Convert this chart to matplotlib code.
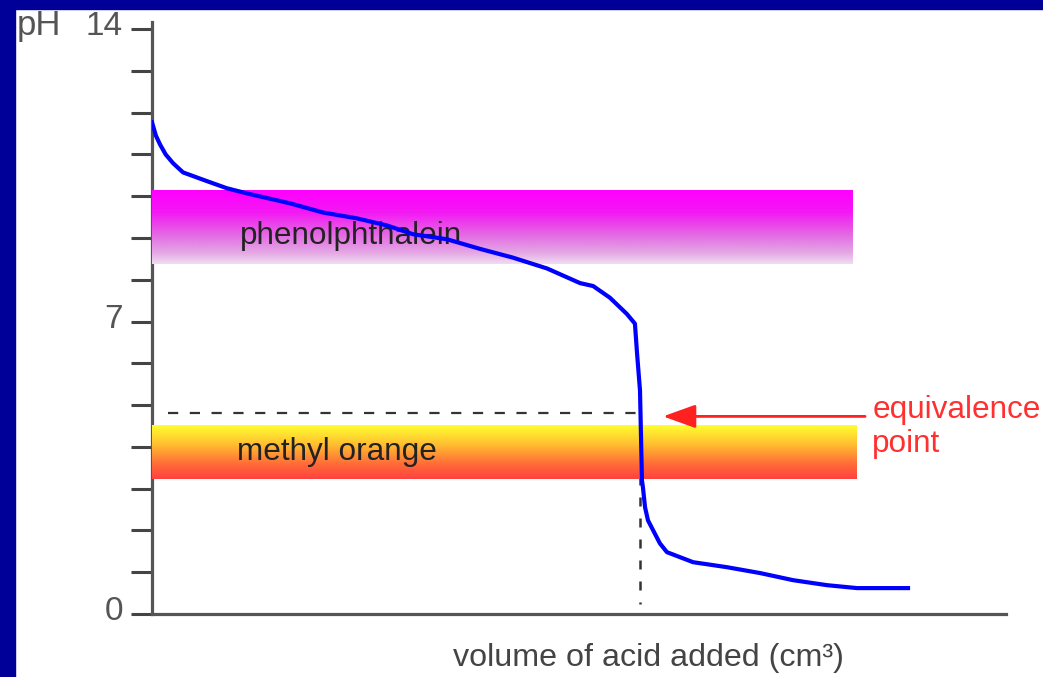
import numpy as np
import matplotlib
matplotlib.use("Agg")
import matplotlib.pyplot as plt
from matplotlib.colors import LinearSegmentedColormap
from matplotlib.patches import Rectangle
from matplotlib.transforms import ScaledTranslation

# ---- data ----
volume = [0.0, 0.2, 0.41, 0.7, 1.08, 1.59, 2.82, 3.84, 5.02, 7.07, 8.76, 10.5, 12.04, 13.37,
          15.11, 16.8, 18.49, 20.24, 21.93, 22.6, 23.46, 24.33, 24.74, 24.85, 25.0,
          25.1, 25.15, 25.26, 25.41, 26.02, 26.38, 27.72, 29.46, 31.15, 32.84,
          34.58, 36.12, 38.73]
ph = [11.77, 11.45, 11.24, 11.0, 10.79, 10.57, 10.36, 10.19, 10.05, 9.83, 9.61, 9.47, 9.30, 9.09,
      8.97, 8.74, 8.53, 8.27, 7.92, 7.85, 7.57, 7.18, 6.95, 6.23, 5.35,
      3.20, 3.03, 2.55, 2.24, 1.69, 1.48, 1.24, 1.12, 0.98, 0.81,
      0.69, 0.62, 0.62]

phenol_range = (8.38, 10.14)
phenol_extent = (0.0, 35.9)
methyl_range = (3.22, 4.49)
methyl_extent = (0.0, 36.1)
equiv_volume = 25.0
equiv_ph = 4.8
ytick_values = list(range(0, 15))
ytick_labels = ["0", "", "", "", "", "", "", "7", "", "", "", "", "", "", "14"]

FONT = ["Liberation Sans", "DejaVu Sans"]
plt.rcParams["font.family"] = FONT
FS = 22.7

W, H = 1043, 677
fig = plt.figure(figsize=(W / 100, H / 100), dpi=100, facecolor="white")

# navy frame at top and left
fig.patches.append(Rectangle((0, 0), 15 / W, 1, transform=fig.transFigure,
                             color="#000099", zorder=0))
fig.patches.append(Rectangle((0, 1 - 9 / H), 1, 9 / H, transform=fig.transFigure,
                             color="#000099", zorder=0))

left, right = 152 / W, 1006 / W
bottom, top = (H - 614) / H, (H - 22) / H
ax = fig.add_axes([left, bottom, right - left, top - bottom])
ax.set_facecolor("none")

xmax, ymax = 43.75, 14.17

# gradient bands
grad = np.linspace(0, 1, 256).reshape(-1, 1)
cm_phenol = LinearSegmentedColormap.from_list(
    "phenol", [(0, "#ff00ff"), (0.3, "#f418f4"), (0.6, "#e468e4"),
               (0.85, "#e4a8e4"), (1.0, "#f2dcf2")])
cm_methyl = LinearSegmentedColormap.from_list(
    "methyl", [(0, "#ffff30"), (0.35, "#ffc030"), (0.7, "#ff7038"), (1.0, "#ff4040")])
ax.imshow(grad, cmap=cm_phenol, aspect="auto", origin="upper",
          extent=(phenol_extent[0], phenol_extent[1], phenol_range[0], phenol_range[1]),
          zorder=3)
ax.imshow(grad, cmap=cm_methyl, aspect="auto", origin="upper",
          extent=(methyl_extent[0], methyl_extent[1], methyl_range[0], methyl_range[1]),
          zorder=3)

# dashed equivalence guides
ax.plot([0.8, equiv_volume], [equiv_ph, equiv_ph], color="#333333", lw=1.6,
        linestyle=(0, (4.6, 5.2)), zorder=2.8)
ax.plot([equiv_volume, equiv_volume], [equiv_ph, 0.25], color="#333333", lw=1.8,
        linestyle=(0, (3.6, 4.8)), zorder=2.8)

# titration curve
ax.plot(volume, ph, color="#0000ff", lw=3.0, zorder=5, solid_joinstyle="round")

# band labels
ax.text(4.5, 8.85, "phenolphthalein", fontsize=FS, color="#222222",
        va="baseline", ha="left", zorder=4)
ax.text(4.35, 3.68, "methyl orange", fontsize=FS, color="#222222",
        va="baseline", ha="left", zorder=4)

# equivalence arrow and label
ax.annotate("", xy=(26.18, 4.73), xytext=(36.53, 4.73),
            arrowprops=dict(arrowstyle="-|>,head_length=1.0,head_width=0.36",
                            color="#ff2020", lw=2.0, shrinkA=0, shrinkB=0,
                            mutation_scale=20),
            zorder=6, annotation_clip=False)
ax.text(36.9, 4.68, "equivalence", fontsize=FS, color="#ff3030",
        va="baseline", ha="left", clip_on=False)
ax.text(36.9, 3.87, "point", fontsize=FS, color="#ff3030",
        va="baseline", ha="left", clip_on=False)

# axes styling
ax.set_xlim(0, xmax)
ax.set_ylim(0, ymax)
for s in ["top", "right"]:
    ax.spines[s].set_visible(False)
for s in ["left", "bottom"]:
    ax.spines[s].set_color("#555555")
    ax.spines[s].set_linewidth(2.3)
ax.set_xticks([])
ax.set_yticks(ytick_values)
ax.set_yticklabels(ytick_labels)
ax.tick_params(axis="y", direction="out", length=15, width=2.2, color="#444444",
               labelsize=24, labelcolor="#555555", pad=6)
shift = ScaledTranslation(0, 6 / 100, fig.dpi_scale_trans)
for lab in ax.get_yticklabels():
    lab.set_transform(lab.get_transform() + shift)

ax.set_xlabel("volume of acid added (cm³)", fontsize=23.2, color="#444444")
ax.xaxis.set_label_coords(0.581, -0.0743)
ax.xaxis.label.set_va("center")

fig.text(17 / W, 1 - 35 / H, "pH", fontsize=25, color="#555555",
         ha="left", va="baseline")

fig.savefig("out.png", dpi=100, facecolor="white")
